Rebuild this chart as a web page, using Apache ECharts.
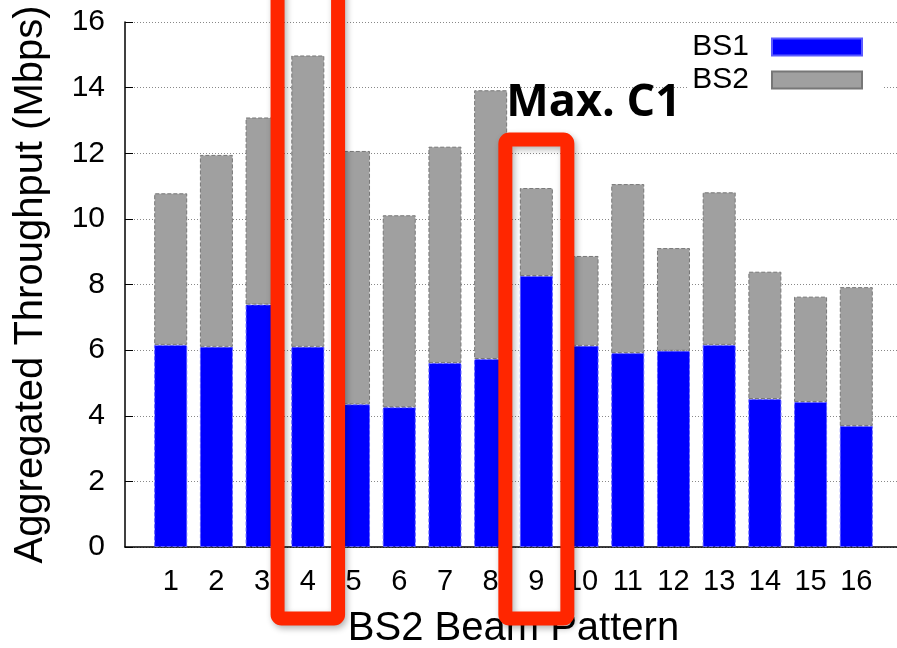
<!DOCTYPE html>
<html><head><meta charset="utf-8">
<script src="https://cdn.jsdelivr.net/npm/echarts@6/dist/echarts.min.js"></script>
<style>html,body{margin:0;padding:0;background:#fff}#c{width:897px;height:648px}</style>
</head><body><div id="c"></div>
<script>
// ---- data ----
const categories = ['1','2','3','4','5','6','7','8','9','10','11','12','13','14','15','16'];
const bs1 = [6.16, 6.10, 7.39, 6.10, 4.35, 4.26, 5.61, 5.73, 8.26, 6.13, 5.91, 5.98, 6.16, 4.51, 4.42, 3.69];
const bs2 = [4.62, 5.85, 5.70, 8.88, 7.72, 5.85, 6.59, 8.19, 2.68, 2.74, 5.15, 3.13, 4.65, 3.88, 3.21, 4.23];
const seriesNames = ['BS1', 'BS2'];
const yMin = 0, yMax = 16, yStep = 2;
const highlighted = ['4', '9'];
const annotationText = 'Max. C1';
const xTitle = 'BS2 Beam Pattern';
const yTitle = 'Aggregated Throughput (Mbps)';

// padded category axis so the axis runs from 0 to 17 like the original
const axisCats = [''].concat(categories, ['']);
const pad = arr => [null].concat(arr, [null]);

const FONT = 'Liberation Sans';
const chart = echarts.init(document.getElementById('c'), null, {renderer: 'canvas'});
chart.setOption({
  animation: false,
  backgroundColor: '#fff',
  textStyle: {fontFamily: FONT},
  grid: {left: 125, top: 22, bottom: 101, right: -5, containLabel: false, outerBoundsMode: 'none'},
  legend: {
    orient: 'vertical', right: 15, top: 30, align: 'right',
    itemWidth: 90, itemHeight: 17, itemGap: 3,
    backgroundColor: '#fff', padding: [2, 19, 6, 4],
    icon: 'rect',
    textStyle: {fontFamily: FONT, fontSize: 30, color: '#000', lineHeight: 30, padding: [0, 18, 0, 0]},
    data: seriesNames
  },
  xAxis: {
    type: 'category', data: axisCats, boundaryGap: false,
    axisLine: {lineStyle: {color: '#000', width: 1.5}},
    axisTick: {show: false},
    axisLabel: {fontSize: 29, color: '#000', margin: 20, interval: 0, fontFamily: FONT},
    splitLine: {show: false},
    name: xTitle, nameLocation: 'middle', nameGap: 62,
    nameTextStyle: {fontSize: 40, color: '#000', fontFamily: FONT}
  },
  yAxis: {
    type: 'value', min: yMin, max: yMax, interval: yStep,
    axisLine: {show: true, lineStyle: {color: '#000', width: 1.5}},
    axisTick: {show: true, inside: true, length: 8, lineStyle: {color: '#000'}},
    axisLabel: {fontSize: 30, color: '#000', margin: 20, fontFamily: FONT},
    splitLine: {show: true, lineStyle: {color: '#888', type: [1, 2], width: 1}},
    name: yTitle, nameLocation: 'middle', nameGap: 74,
    nameTextStyle: {fontSize: 40, color: '#000', fontFamily: FONT}
  },
  series: [
    {name: seriesNames[0], type: 'bar', stack: 'total', data: pad(bs1), barWidth: 33,
     itemStyle: {color: '#0000ff', borderColor: '#5a5aff', borderWidth: 1, borderType: 'dashed'}},
    {name: seriesNames[1], type: 'bar', stack: 'total', data: pad(bs2), barWidth: 33,
     itemStyle: {color: '#a0a0a0', borderColor: '#777', borderWidth: 1, borderType: 'dashed'}}
  ]
});

// annotation boxes, positioned from the axis scale
const RED = '#ff2600';
const graphics = [];
highlighted.forEach((cat, i) => {
  const cx = chart.convertToPixel({xAxisIndex: 0}, cat);
  const y0 = chart.convertToPixel({yAxisIndex: 0}, 0);
  const top = i === 0 ? -30 : 139.5;
  const w = i === 0 ? 60.5 : 62;
  graphics.push({
    type: 'rect', z: 100,
    shape: {x: cx - w / 2, y: top, width: w, height: (y0 + 71.5) - top, r: 4},
    style: {fill: null, stroke: RED, lineWidth: 14,
            shadowBlur: 6, shadowColor: 'rgba(0,0,0,0.3)', shadowOffsetX: 2, shadowOffsetY: 3}
  });
  if (i === 1) {
    graphics.push({
      type: 'text', z: 101, x: cx - 30, y: 103,
      style: {text: annotationText, fill: '#000', font: 'bold 45px "Open Sans"', textAlign: 'left', textVerticalAlign: 'middle'}
    });
  }
});
chart.setOption({graphic: graphics});
</script></body></html>
